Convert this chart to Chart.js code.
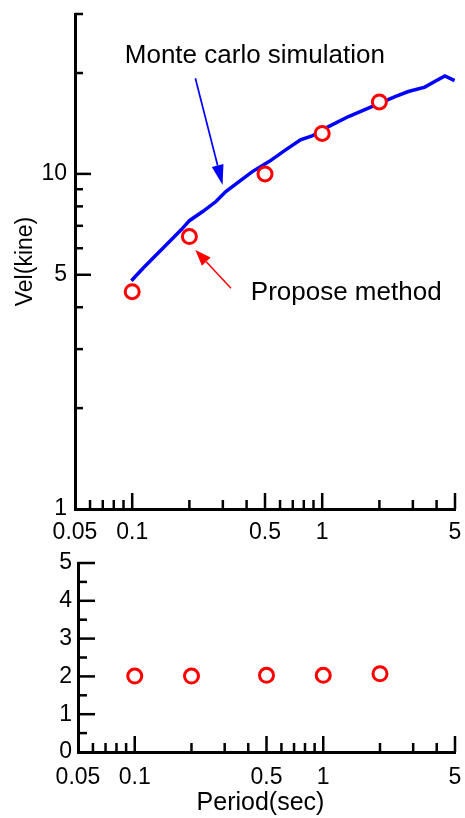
<!DOCTYPE html>
<html><head><meta charset="utf-8">
<script src="https://cdn.jsdelivr.net/npm/chart.js@4/dist/chart.umd.min.js"></script>
<style>
html,body{margin:0;padding:0;background:#fff;}
#wrap{position:relative;width:465px;height:818px;overflow:hidden;}
canvas{position:absolute;left:0;top:0;}
</style></head><body>
<div id="wrap"><canvas id="topc" width="465" height="818"></canvas><canvas id="botc" width="465" height="818"></canvas></div>
<script>
// ---- data ----
const mcPeriod = [0.099,0.114,0.1285,0.145,0.1635,0.181,0.2,0.235,0.276,0.311,0.365,0.429,0.525,0.642,0.769,0.884,1.08,1.376,1.75,2.42,2.84,3.47,3.91,4.42,4.98];
const mcVel    = [4.80,5.23,5.60,6.00,6.43,6.81,7.25,7.72,8.27,8.86,9.48,10.16,10.88,11.79,12.64,12.98,13.84,14.83,15.71,17.01,17.61,18.15,18.86,19.61,18.99];
const propPeriod = [0.1,0.2,0.5,1,2];
const propVel    = [4.45,6.50,10.0,13.2,16.4];
const ratioVal   = [2.01,2.01,2.03,2.03,2.07];

const xLabelTicks = [0.05,0.1,0.5,1,5];
const xMajorTicks = [0.1,0.5,1,5];
const xMinorTicks = [0.06,0.07,0.08,0.09,0.2,0.3,0.4,0.6,0.7,0.8,0.9,2,3,4];
const velLabelTicks = [1,5,10];
const velMajorTicks = [5,10];
const velMinorTicks = [2,3,4,6,7,8,9,20,30];
const ratioLabelTicks = [0,1,2,3,4,5];
const ratioMajorTicks = [1,2,3,4,5];
const ratioMinorTicks = [0.5,1.5,2.5,3.5,4.5];

const FONT = "'Liberation Sans', Arial, Helvetica, sans-serif";
Chart.defaults.font.family = FONT;
Chart.defaults.color = '#000';

// ---- plugins ----
const inwardTicks = {
  id: 'inwardTicks',
  beforeDatasetsDraw(chart, args, o) {
    const ctx = chart.ctx, ca = chart.chartArea, xs = chart.scales.x, ys = chart.scales.y;
    ctx.save();
    ctx.strokeStyle = '#000'; ctx.lineWidth = 2.5; ctx.lineCap = 'butt';
    const vx = (vals, len) => vals.forEach(v => { const p = xs.getPixelForValue(v); ctx.beginPath(); ctx.moveTo(p, ca.bottom); ctx.lineTo(p, ca.bottom - len); ctx.stroke(); });
    const vy = (vals, len) => vals.forEach(v => { const p = ys.getPixelForValue(v); ctx.beginPath(); ctx.moveTo(ca.left, p); ctx.lineTo(ca.left + len, p); ctx.stroke(); });
    vx(o.xMajor, o.xMajLen); vx(o.xMinor, o.xMinLen);
    vy(o.yMajor, o.yMajLen); vy(o.yMinor, o.yMinLen);
    ctx.restore();
  }
};

const notes = {
  id: 'notes',
  afterDatasetsDraw(chart, args, o) {
    const ctx = chart.ctx, xs = chart.scales.x, ys = chart.scales.y;
    ctx.save();
    (o.items || []).forEach(it => {
      ctx.font = it.size + 'px ' + FONT;
      ctx.fillStyle = '#000'; ctx.textAlign = 'left'; ctx.textBaseline = 'alphabetic';
      ctx.fillText(it.text, xs.getPixelForValue(it.tx), ys.getPixelForValue(it.ty));
      const x1 = xs.getPixelForValue(it.ax1), y1 = ys.getPixelForValue(it.ay1);
      const x2 = xs.getPixelForValue(it.ax2), y2 = ys.getPixelForValue(it.ay2);
      const ang = Math.atan2(y2 - y1, x2 - x1);
      const bx = x2 - it.head * Math.cos(ang), by = y2 - it.head * Math.sin(ang);
      ctx.strokeStyle = it.color; ctx.fillStyle = it.color; ctx.lineWidth = it.lw;
      ctx.beginPath(); ctx.moveTo(x1, y1); ctx.lineTo(bx, by); ctx.stroke();
      ctx.beginPath();
      ctx.moveTo(x2, y2);
      ctx.lineTo(bx + it.hw * Math.sin(ang), by - it.hw * Math.cos(ang));
      ctx.lineTo(bx - it.hw * Math.sin(ang), by + it.hw * Math.cos(ang));
      ctx.closePath(); ctx.fill();
    });
    ctx.restore();
  }
};

const axisTitles = {
  id: 'axisTitles',
  afterDraw(chart, args, o) {
    const ctx = chart.ctx, ca = chart.chartArea;
    ctx.save();
    ctx.fillStyle = '#000';
    if (o.yTitle) {
      ctx.font = o.ySize + 'px ' + FONT;
      ctx.translate(ca.left + o.yDx, (ca.top + ca.bottom) / 2);
      ctx.rotate(-Math.PI / 2);
      ctx.textAlign = 'center'; ctx.textBaseline = 'middle';
      ctx.fillText(o.yTitle, 0, 0);
      ctx.setTransform(1, 0, 0, 1, 0, 0);
    }
    if (o.xTitle) {
      ctx.font = o.xSize + 'px ' + FONT;
      ctx.textAlign = 'center'; ctx.textBaseline = 'alphabetic';
      ctx.fillText(o.xTitle, (ca.left + ca.right) / 2 + o.xDx, ca.bottom + o.xDy);
    }
    ctx.restore();
  }
};

function fixW(w) { return s => { s.width = w; s.paddingLeft = s.paddingRight = s.paddingTop = s.paddingBottom = 0; }; }
function fixH(h) { return s => { s.height = h; s.paddingLeft = s.paddingRight = s.paddingTop = s.paddingBottom = 0; }; }
function setTicks(list) { return s => { s.ticks = list.map(v => ({ value: v })); }; }

const tickFont = { size: 23 };
const noGrid = { display: false, drawTicks: false, tickLength: 0 };

// ---- top chart ----
new Chart(document.getElementById('topc'), {
  type: 'scatter',
  data: {
    datasets: [
      {
        label: 'Propose method',
        data: propPeriod.map((x, i) => ({ x, y: propVel[i] })),
        showLine: false,
        pointRadius: 7, pointBorderWidth: 3,
        pointBorderColor: '#ff0000', pointBackgroundColor: '#ffffff',
        order: 0
      },
      {
        label: 'Monte carlo simulation',
        data: mcPeriod.map((x, i) => ({ x, y: mcVel[i] })),
        showLine: true, borderColor: '#0000ff', borderWidth: 3.5,
        pointRadius: 0, tension: 0, fill: false,
        order: 1
      }
    ]
  },
  options: {
    responsive: false, animation: false, devicePixelRatio: 1,
    layout: { padding: { left: 0, right: 8, top: 14, bottom: 269 } },
    plugins: {
      legend: { display: false }, tooltip: { enabled: false },
      inwardTicks: { xMajor: xMajorTicks, xMinor: xMinorTicks, yMajor: velMajorTicks, yMinor: velMinorTicks, xMajLen: 16, xMinLen: 9, yMajLen: 16, yMinLen: 8 },
      notes: { items: [
        { text: 'Monte carlo simulation', size: 26, tx: 0.0914, ty: 21.45, ax1: 0.215, ay1: 19.3, ax2: 0.299, ay2: 9.27, color: '#0000ff', lw: 1.7, head: 20, hw: 6 },
        { text: 'Propose method', size: 26, tx: 0.421, ty: 4.21, ax1: 0.331, ay1: 4.56, ax2: 0.215, ay2: 5.93, color: '#ff0000', lw: 1.5, head: 16, hw: 6 }
      ] },
      axisTitles: { yTitle: 'Vel(kine)', ySize: 23, yDx: -49 }
    },
    scales: {
      x: {
        type: 'logarithmic', min: 0.05, max: 5, position: 'bottom',
        grid: noGrid, border: { display: true, color: '#000', width: 3 },
        afterBuildTicks: setTicks(xLabelTicks), afterFit: fixH(40),
        ticks: { font: tickFont, padding: 10, autoSkip: false, maxRotation: 0, callback: v => String(v) }
      },
      y: {
        type: 'logarithmic', min: 1, max: 30,
        grid: noGrid, border: { display: true, color: '#000', width: 3 },
        afterBuildTicks: setTicks(velLabelTicks), afterFit: fixW(75),
        ticks: { font: tickFont, padding: 8, autoSkip: false, callback: v => String(v) }
      }
    }
  },
  plugins: [inwardTicks, notes, axisTitles]
});

// ---- bottom chart ----
new Chart(document.getElementById('botc'), {
  type: 'scatter',
  data: {
    datasets: [{
      label: 'Ratio',
      data: propPeriod.map((x, i) => ({ x, y: ratioVal[i] })),
      showLine: false,
      pointRadius: 7, pointBorderWidth: 3,
      pointBorderColor: '#ff0000', pointBackgroundColor: '#ffffff'
    }]
  },
  options: {
    responsive: false, animation: false, devicePixelRatio: 1,
    layout: { padding: { left: 0, right: 5, top: 563, bottom: 26 } },
    plugins: {
      legend: { display: false }, tooltip: { enabled: false },
      inwardTicks: { xMajor: xMajorTicks, xMinor: xMinorTicks, yMajor: ratioMajorTicks, yMinor: ratioMinorTicks, xMajLen: 16, xMinLen: 9, yMajLen: 17, yMinLen: 9 },
      axisTitles: { xTitle: 'Period(sec)', xSize: 25, xDx: -6, xDy: 58 }
    },
    scales: {
      x: {
        type: 'logarithmic', min: 0.05, max: 5, position: 'bottom',
        grid: noGrid, border: { display: true, color: '#000', width: 3 },
        afterBuildTicks: setTicks(xLabelTicks), afterFit: fixH(40),
        ticks: { font: tickFont, padding: 12, autoSkip: false, maxRotation: 0, callback: v => String(v) }
      },
      y: {
        type: 'linear', min: 0, max: 5,
        grid: noGrid, border: { display: true, color: '#000', width: 3 },
        afterBuildTicks: setTicks(ratioLabelTicks), afterFit: fixW(78),
        ticks: { font: tickFont, padding: 6, autoSkip: false, callback: v => String(v) }
      }
    }
  },
  plugins: [inwardTicks, axisTitles]
});
</script>
</body></html>
